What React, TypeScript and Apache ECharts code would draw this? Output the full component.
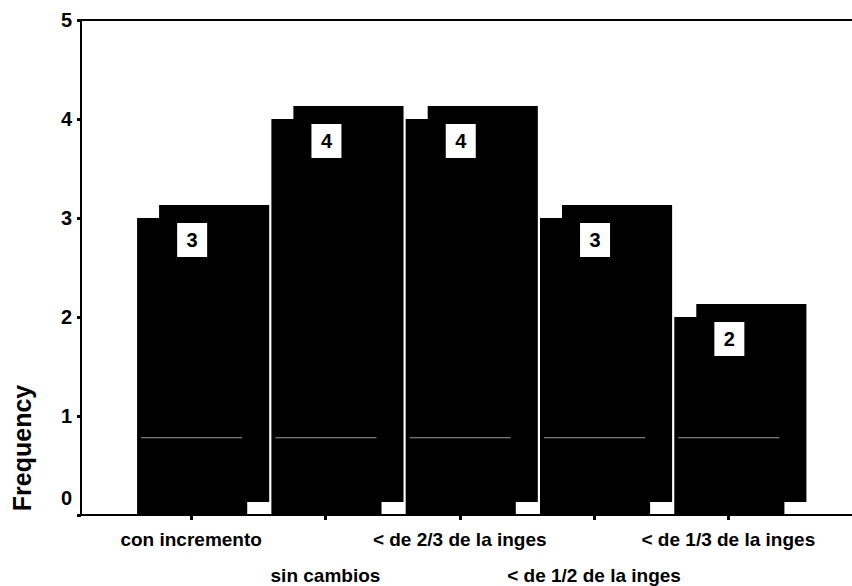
import React, { useEffect, useRef } from "react";
import * as echarts from "echarts";

const categories = [
  "con incremento",
  "sin cambios",
  "< de 2/3 de la inges",
  "< de 1/2 de la inges",
  "< de 1/3 de la inges",
];
const frequencies = [3, 4, 4, 3, 2];
const yTicks = [0, 1, 2, 3, 4, 5];
const yTitle = "Frequency";

const FONT = "'Liberation Sans', Arial, Helvetica, sans-serif";

export default function App() {
  const ref = useRef<HTMLDivElement>(null);
  useEffect(() => {
    if (!ref.current) return;
    const chart = echarts.init(ref.current, undefined, { renderer: "svg" });
    const top = 20;
    const bottom = 71;
    chart.setOption({
      animation: false,
      backgroundColor: "#ffffff",
      grid: [
        { left: 81, right: 0, top, bottom, containLabel: false, outerBoundsMode: "none" },
        { left: 124, right: 56.5, top, bottom, containLabel: false, outerBoundsMode: "none" },
      ],
      xAxis: [
        {
          gridIndex: 0,
          type: "value",
          min: 0,
          max: 1,
          axisLine: { show: true, lineStyle: { color: "#000", width: 2 } },
          axisTick: { show: false },
          axisLabel: { show: false },
          splitLine: { show: false },
        },
        {
          gridIndex: 0,
          type: "value",
          position: "top",
          min: 0,
          max: 1,
          axisLine: { show: true, lineStyle: { color: "#000", width: 2 } },
          axisTick: { show: false },
          axisLabel: { show: false },
          splitLine: { show: false },
        },
        {
          gridIndex: 1,
          type: "category",
          data: categories,
          axisLine: { show: false },
          axisTick: {
            show: true,
            alignWithLabel: true,
            length: 5,
            lineStyle: { color: "#000", width: 3 },
          },
          axisLabel: {
            interval: 0,
            margin: 6,
            color: "#000",
            fontFamily: FONT,
            fontWeight: "bold",
            fontSize: 19,
            lineHeight: 36,
            formatter: (v: string, i: number) => (i % 2 === 1 ? "\n" + v : v),
          },
        },
      ],
      yAxis: [
        {
          gridIndex: 0,
          type: "value",
          min: 0,
          max: 5,
          interval: 1,
          data: yTicks,
          axisLine: { show: true, lineStyle: { color: "#000", width: 2 } },
          axisTick: { show: true, length: 4, lineStyle: { color: "#000", width: 3 } },
          splitLine: { show: false },
          axisLabel: {
            color: "#000",
            fontFamily: FONT,
            fontWeight: "bold",
            fontSize: 20,
            margin: 9,
            formatter: (v: number) => (v === 0 ? "{z|0}" : String(v)),
            rich: {
              z: {
                color: "#000",
                fontFamily: FONT,
                fontWeight: "bold",
                fontSize: 20,
                padding: [0, 0, 34, 0],
              },
            },
          },
        },
        {
          gridIndex: 1,
          type: "value",
          min: 0,
          max: 5,
          interval: 1,
          show: false,
        },
      ],
      graphic: [
        {
          type: "text",
          x: 22,
          y: 448,
          rotation: Math.PI / 2,
          style: {
            text: yTitle,
            fill: "#000",
            font: `bold 25px ${FONT}`,
            textAlign: "center",
            textVerticalAlign: "middle",
          },
        },
      ],
      series: [
        {
          type: "custom",
          xAxisIndex: 2,
          yAxisIndex: 1,
          data: frequencies.map((v, i) => [i, v]),
          renderItem: (params: any, api: any) => {
            const idx = api.value(0);
            const v = api.value(1);
            const pTop = api.coord([idx, v]);
            const pBase = api.coord([idx, 0]);
            const pArt = api.coord([idx, 0.78]);
            const band = api.size([1, 0])[0];
            const bw = band * 0.82;
            const x0 = pTop[0] + 1 - bw / 2;
            const h = pBase[1] - pTop[1];
            const dx = 22;
            const dy = 13;
            return {
              type: "group",
              children: [
                {
                  type: "rect",
                  shape: { x: x0 + dx, y: pTop[1] - dy, width: bw, height: h },
                  style: { fill: "#000" },
                },
                {
                  type: "rect",
                  shape: { x: x0, y: pTop[1], width: bw, height: h },
                  style: { fill: "#000" },
                },
                {
                  type: "line",
                  shape: { x1: x0 + 4, y1: pArt[1], x2: x0 + bw - 5, y2: pArt[1] },
                  style: { stroke: "#9a9a9a", lineWidth: 1 },
                },
                {
                  type: "rect",
                  shape: { x: x0 + bw / 2 - 15, y: pTop[1] + 5, width: 30, height: 34 },
                  style: { fill: "#fff" },
                },
                {
                  type: "text",
                  style: {
                    text: String(v),
                    x: x0 + bw / 2,
                    y: pTop[1] + 22,
                    fill: "#000",
                    font: `bold 20px ${FONT}`,
                    textAlign: "center",
                    textVerticalAlign: "middle",
                  },
                },
              ],
            };
          },
        },
      ],
    });
    return () => chart.dispose();
  }, []);
  return <div ref={ref} style={{ width: 852, height: 586, position: "fixed", left: 0, top: 0 }} />;
}
